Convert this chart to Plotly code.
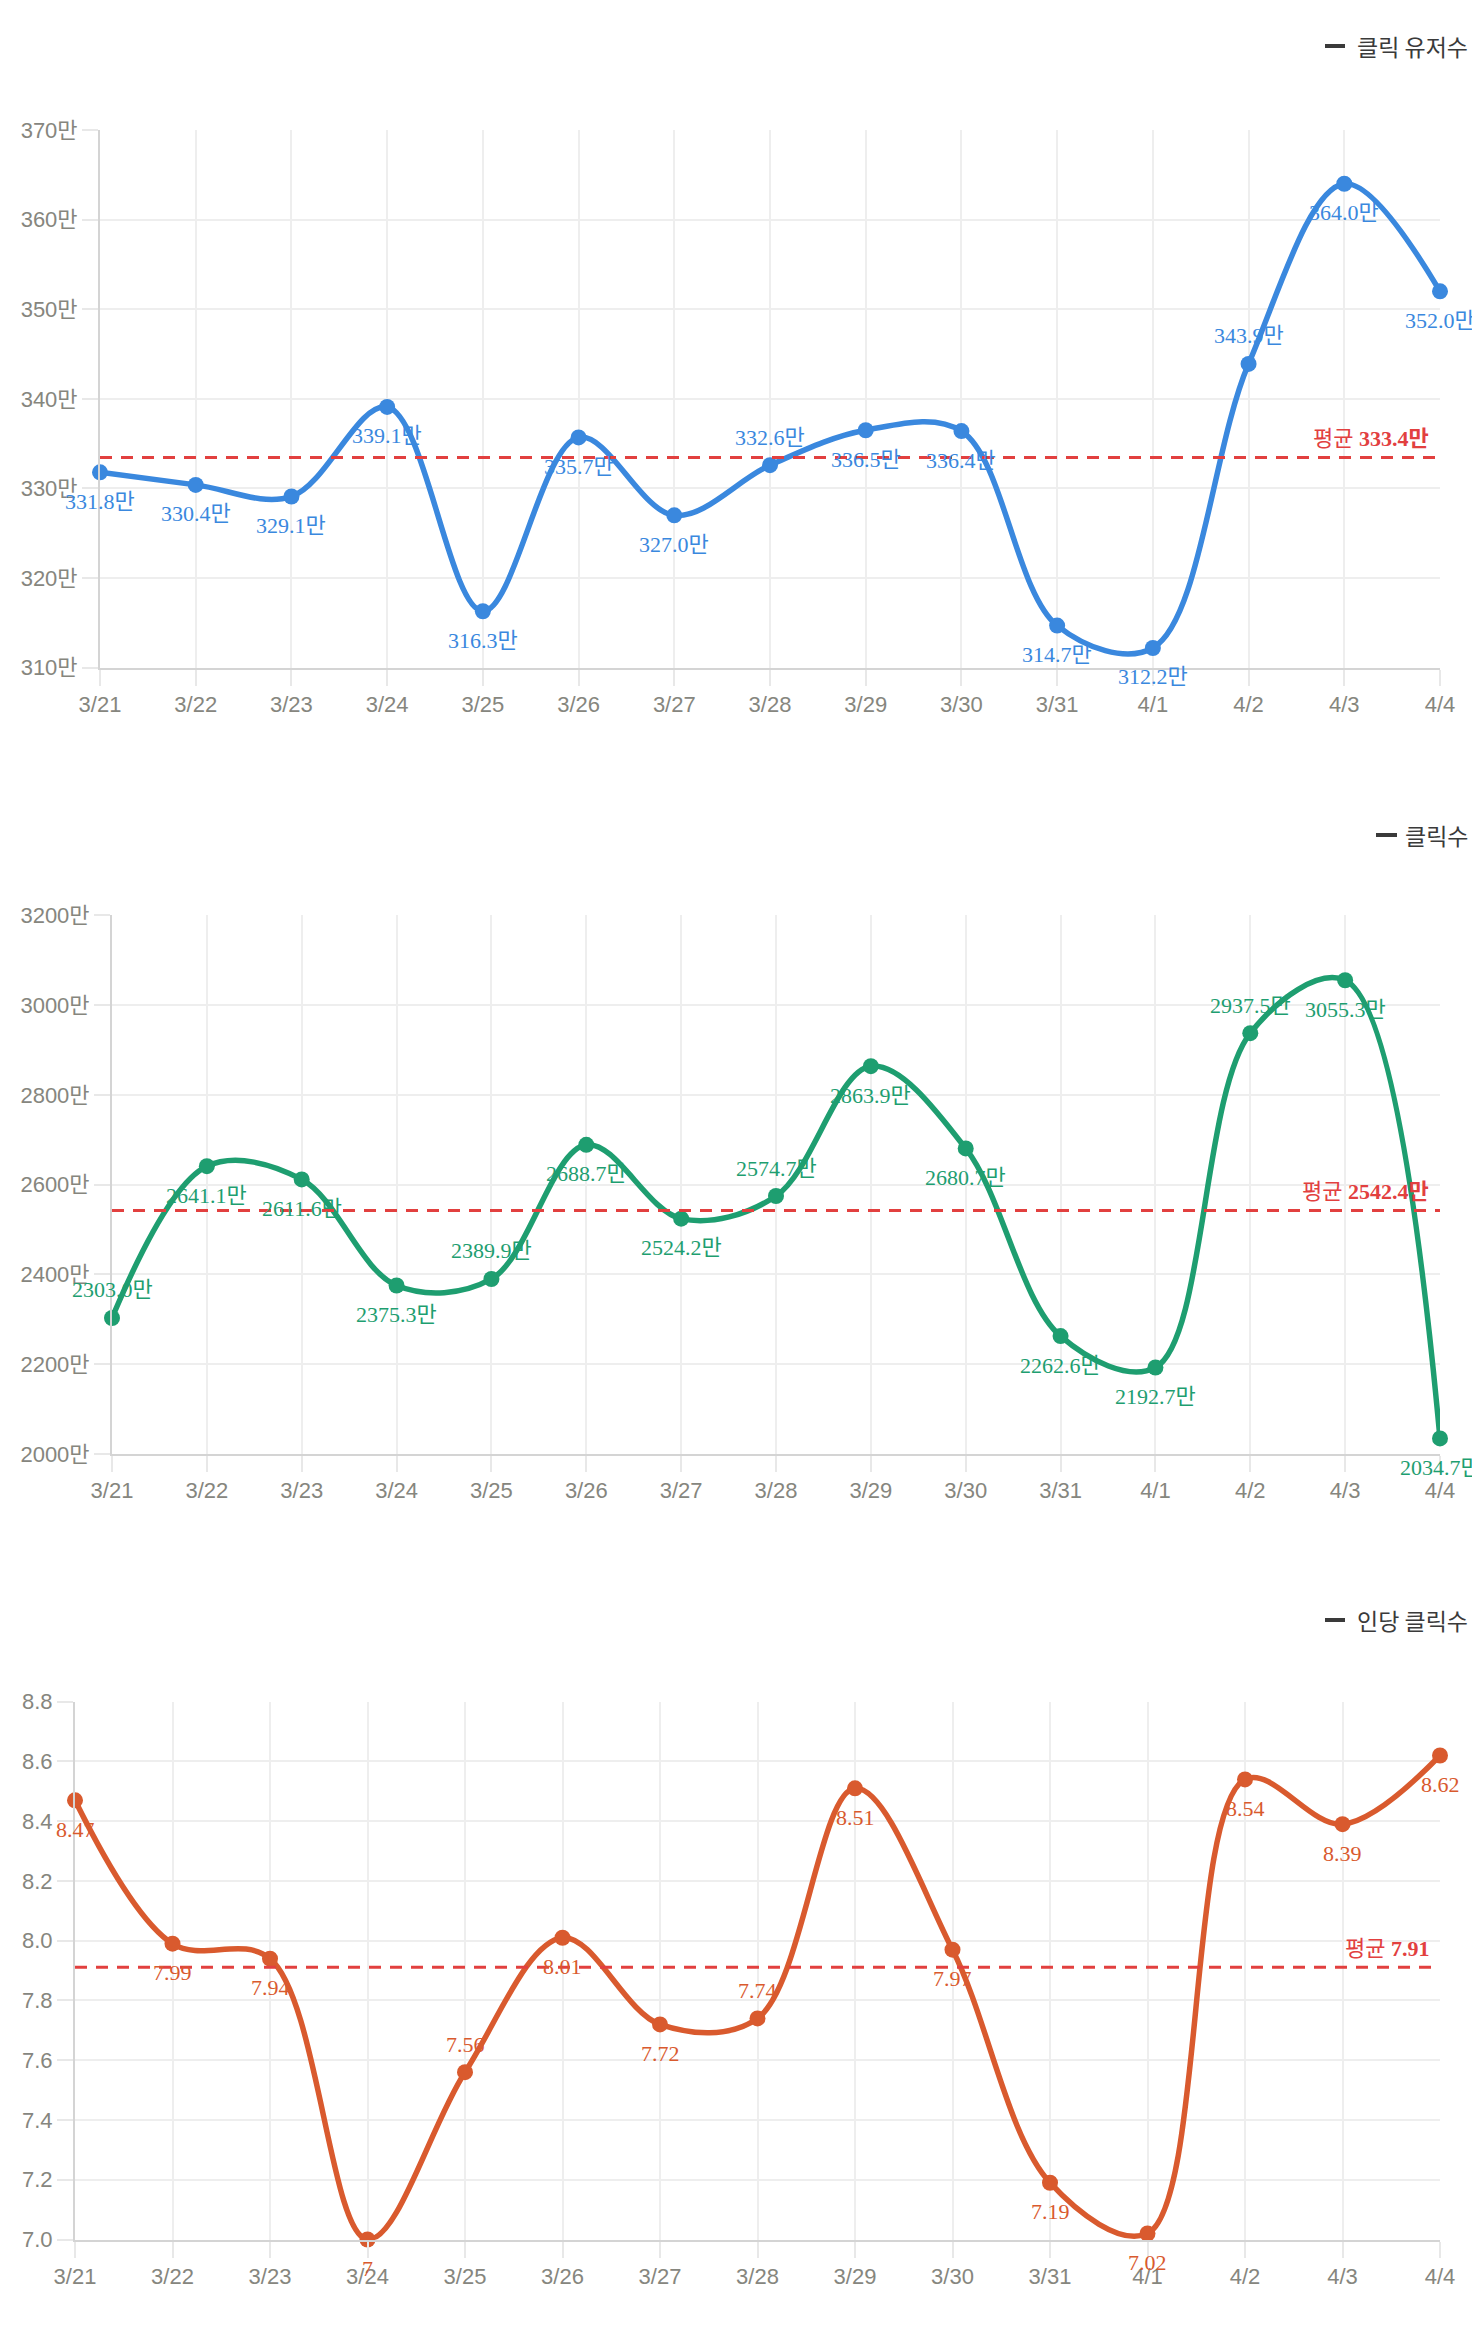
import plotly.graph_objects as go
import numpy as np

# ---------------- data ----------------
dates = ["3/21", "3/22", "3/23", "3/24", "3/25", "3/26", "3/27", "3/28",
         "3/29", "3/30", "3/31", "4/1", "4/2", "4/3", "4/4"]

click_users = [331.8, 330.4, 329.1, 339.1, 316.3, 335.7, 327.0, 332.6,
               336.5, 336.4, 314.7, 312.2, 343.9, 364.0, 352.0]          # 만
clicks = [2303.0, 2641.1, 2611.6, 2375.3, 2389.9, 2688.7, 2524.2, 2574.7,
          2863.9, 2680.7, 2262.6, 2192.7, 2937.5, 3055.3, 2034.7]        # 만
clicks_per_user = [8.47, 7.99, 7.94, 7.00, 7.56, 8.01, 7.72, 7.74,
                   8.51, 7.97, 7.19, 7.02, 8.54, 8.39, 8.62]

series_names = ["클릭 유저수", "클릭수", "인당 클릭수"]

# ---------------- styling ----------------
W, H = 1472, 2326
colors = ["#3a88de", "#1e9e70", "#d95a2e"]
avg_color = "#e2403f"
tick_color = "#86867e"
grid_color = "#eeeeee"
sans = "Liberation Sans, Noto Sans CJK KR, sans-serif"
serif = "Liberation Serif, Noto Sans CJK KR, serif"

# label placement (which points get their value label above the marker)
labels_above = [{"3/28", "4/2"},
                {"3/21", "3/25", "3/28", "4/2"},
                {"3/25", "3/28"}]

# plot boxes in pixels: left, right, top, bottom
boxes = [(100, 1440, 130.0, 667.7),
         (112, 1440, 915.3, 1454.0),
         (75, 1440, 1701.7, 2239.5)]
yranges = [(310, 370, 10), (2000, 3200, 200), (7.0, 8.8, 0.2)]
suffixes = ["만", "만", ""]
legend_y = [46, 835, 1620]
legend_dash = [(1325, 1345), (1376, 1397), (1325, 1345)]


def px_x(px):
    return px / W


def px_y(py):
    return 1 - py / H


def fmt(v, i):
    if i < 2:
        return f"{v:.1f}만"
    return f"{v:g}"


fig = go.Figure()
annotations = []
shapes = []
all_data = [click_users, clicks, clicks_per_user]

for i, vals in enumerate(all_data):
    xa = "x" if i == 0 else f"x{i+1}"
    ya = "y" if i == 0 else f"y{i+1}"
    fig.add_trace(go.Scatter(
        x=dates, y=vals, xaxis=xa, yaxis=ya, name=series_names[i],
        mode="lines+markers",
        line=dict(color=colors[i], width=5.5, shape="spline", smoothing=1.0),
        marker=dict(color=colors[i], size=16),
        cliponaxis=False, showlegend=False, hoverinfo="x+y",
    ))
    # value labels
    for d, v in zip(dates, vals):
        above = d in labels_above[i]
        annotations.append(dict(
            x=d, y=v, xref=xa, yref=ya, text=fmt(v, i), showarrow=False,
            yshift=28 if above else -29, yanchor="middle", xanchor="center",
            font=dict(family=serif, size=22, color=colors[i]),
        ))
    # average line
    avg = float(np.mean(vals))
    avg_txt = f"{avg:.1f}만" if i < 2 else f"{avg:.2f}"
    shapes.append(dict(
        type="line", xref=f"{xa} domain", yref=ya, x0=0, x1=1, y0=avg, y1=avg,
        line=dict(color=avg_color, width=3, dash="12px,9px"), layer="above",
    ))
    annotations.append(dict(
        x=1, y=avg, xref=f"{xa} domain", yref=ya, showarrow=False,
        text=f"평균 <b>{avg_txt}</b>", xanchor="right", yanchor="middle",
        xshift=-9, yshift=19,
        font=dict(family=serif, size=22, color=avg_color),
    ))
    # legend
    annotations.append(dict(
        x=px_x(1470), y=px_y(legend_y[i]), xref="paper", yref="paper",
        text=series_names[i], showarrow=False, xanchor="right", yanchor="middle",
        font=dict(family="Noto Sans CJK KR, sans-serif", size=23, color="#3a3a3a"),
    ))
    x0, x1 = legend_dash[i]
    shapes.append(dict(
        type="line", xref="paper", yref="paper",
        x0=px_x(x0), x1=px_x(x1), y0=px_y(legend_y[i]), y1=px_y(legend_y[i]),
        line=dict(color="#3a3a3a", width=4),
    ))

    l, r, t, b = boxes[i]
    lo, hi, dt = yranges[i]
    xkey = "xaxis" if i == 0 else f"xaxis{i+1}"
    ykey = "yaxis" if i == 0 else f"yaxis{i+1}"
    fig.layout[xkey] = dict(
        domain=[px_x(l), px_x(r)], anchor=ya, type="category", automargin=False,
        range=[0, len(dates) - 1], showgrid=True, gridcolor=grid_color, gridwidth=2,
        showline=True, linecolor="#d4d4d4", linewidth=2,
        ticks="outside", ticklen=16, tickwidth=2, tickcolor="#e8e8e8",
        tickfont=dict(family=sans, size=22, color=tick_color),
        ticklabelstandoff=0, fixedrange=True,
    )
    fig.layout[ykey] = dict(
        domain=[px_y(b), px_y(t)], anchor=xa, range=[lo, hi], dtick=dt, tick0=lo,
        automargin=False,
        showgrid=True, gridcolor=grid_color, gridwidth=2, zeroline=False,
        showline=True, linecolor="#d4d4d4", linewidth=2,
        ticks="outside", ticklen=16, tickwidth=2, tickcolor="#e8e8e8",
        ticksuffix=suffixes[i], tickformat=".1f" if i == 2 else None,
        tickfont=dict(family=sans, size=22, color=tick_color),
        ticklabelstandoff=0, fixedrange=True,
    )

fig.update_layout(
    template="none",
    width=W, height=H, margin=dict(l=0, r=0, t=0, b=0, pad=0, autoexpand=False),
    paper_bgcolor="white", plot_bgcolor="white",
    annotations=annotations, shapes=shapes, showlegend=False,
)

fig.write_html(
    "out.html",
    post_script="document.body.style.margin='0';document.body.style.overflow='hidden';",
    config={"displayModeBar": False},
)
